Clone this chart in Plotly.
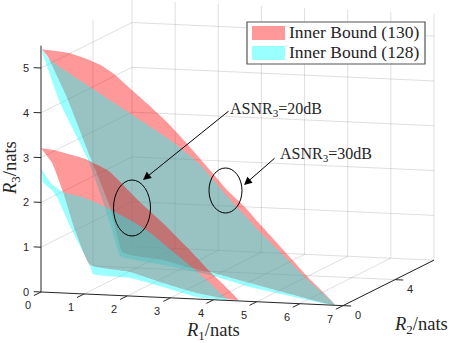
import numpy as np
import plotly.graph_objects as go

# outlines of the four regions, (R1, R2, R3) in nats
big_red_r1 = [0.02, 0.67, 1.02, 1.37, 1.72, 2.06, 2.48, 2.92, 3.41, 3.92, 4.33, 4.73, 5.10, 5.66, 6.19, 6.81, 5.38, 4.06, 3.34, 2.74, 2.15, 1.23, 0.32, 0, 0, 0, 0, 0]
big_red_r2 = [0, 0, 0, 0, 0, 0, 0, 0, 0, 0, 0, 0, 0, 0, 0, 0, 1.30, 2.60, 3.31, 3.90, 4.34, 5.29, 5.79, 6.23, 5.31, 3.77, 2.08, 0.54]
big_red_r3 = [5.42, 5.36, 5.26, 5.13, 4.92, 4.64, 4.30, 3.92, 3.43, 2.89, 2.45, 2.10, 1.71, 1.14, 0.60, 0.01, 0, 0, 0, 0, 0, 0, 0, 0, 1.13, 2.47, 3.98, 5.17]

big_cyan_r1 = [0.02, 0.21, 1.18, 2.06, 3.06, 3.69, 4.33, 5.10, 6.19, 6.81, 5.46, 4.23, 2.87, 1.45, 0.49, 0.15, 0, 0, 0, 0, 0]
big_cyan_r2 = [0, 0, 0, 0, 0, 0, 0, 0, 0, 0, 1.03, 2.04, 3.48, 4.59, 5.22, 5.58, 5.92, 4.92, 3.62, 1.46, 0.08]
big_cyan_r3 = [5.40, 5.19, 4.60, 4.08, 3.48, 3.00, 2.31, 1.54, 0.54, 0.01, 0, 0, 0, 0, 0, 0, 0.08, 1.18, 2.42, 4.01, 5.35]

small_red_r1 = [0.02, 0.32, 0.63, 0.86, 1.09, 1.32, 1.60, 1.95, 2.29, 2.83, 3.38, 3.92, 4.57, 4.25, 3.36, 2.21, 1.04, 0, 0, 0, 0, 0]
small_red_r2 = [0, 0, 0, 0, 0, 0, 0, 0, 0, 0, 0, 0, 0, 0.20, 0.85, 2.05, 3.39, 3.77, 2.62, 1.69, 0.85, 0]
small_red_r3 = [3.21, 3.18, 3.11, 3.06, 2.99, 2.89, 2.75, 2.43, 2.11, 1.66, 1.15, 0.62, 0.02, 0, 0, 0, 0, 0.06, 1.00, 1.99, 2.76, 3.21]

small_cyan_r1 = [0, 0.12, 0.25, 0.51, 0.95, 1.41, 2.06, 2.53, 3.06, 3.52, 3.92, 4.31, 4.52, 4.21, 3.53, 2.38, 1.30, 0.34, 0.04, 0, 0, 0, 0, 0, 0]
small_cyan_r2 = [0, 0, 0, 0, 0, 0, 0, 0, 0, 0, 0, 0, 0, 0.03, 0.28, 1.48, 2.54, 2.87, 3.71, 2.38, 1.62, 1.23, 0.85, 0.15, 0.08]
small_cyan_r3 = [2.77, 2.59, 2.42, 2.25, 2.16, 2.00, 1.70, 1.43, 1.03, 0.69, 0.37, 0.03, 0, 0, 0, 0, 0, 0, 0, 1.04, 1.64, 1.94, 2.15, 2.43, 2.65]

r1_ticks = [0, 1, 2, 3, 4, 5, 6, 7]
r2_ticks = [0, 4]
r3_ticks = [0, 1, 2, 3, 4, 5]
r1_max, r2_max, r3_max = 7, 7, 5.5

legend_labels = ["Inner Bound (130)", "Inner Bound (128)"]
red_fill = "rgba(255,0,0,0.4)"
cyan_fill = "rgba(0,255,255,0.4)"
axis_color = "#262626"
grid_color = "rgba(38,38,38,0.15)"
serif = "Liberation Serif"


def project(r1, r2, r3):
    # fixed view of the 3D box onto the page
    r1, r2, r3 = np.broadcast_arrays(np.asarray(r1, float), np.asarray(r2, float), np.asarray(r3, float))
    return 41 + 43.14 * r1 + 13 * r2, 292 + 1.95 * r1 - 6.5 * r2 - 44.8 * r3


def line3d(fig, a, b, color, width=1):
    x, y = project(*zip(a, b))
    fig.add_trace(go.Scatter(x=x, y=y, mode="lines", line=dict(color=color, width=width),
                             hoverinfo="skip", showlegend=False))


def region(fig, r1, r2, r3, color, name):
    x, y = project(r1, r2, r3)
    fig.add_trace(go.Scatter(x=x, y=y, mode="lines", fill="toself", fillcolor=color,
                             line=dict(width=0, shape="spline", smoothing=0.4),
                             name=name, hoverinfo="skip", showlegend=False))


fig = go.Figure()

# grid on floor and the two walls
for v in r1_ticks[1:]:
    line3d(fig, (v, 0, 0), (v, r2_max, 0), grid_color)
    line3d(fig, (v, r2_max, 0), (v, r2_max, r3_max), grid_color)
for v in r2_ticks[1:] + [r2_max]:
    line3d(fig, (0, v, 0), (r1_max, v, 0), grid_color)
    line3d(fig, (0, v, 0), (0, v, r3_max), grid_color)
for v in r3_ticks[1:]:
    line3d(fig, (0, 0, v), (0, r2_max, v), grid_color)
    line3d(fig, (0, r2_max, v), (r1_max, r2_max, v), grid_color)

region(fig, big_red_r1, big_red_r2, big_red_r3, red_fill, "Inner Bound (130)")
region(fig, big_cyan_r1, big_cyan_r2, big_cyan_r3, cyan_fill, "Inner Bound (128)")
region(fig, small_red_r1, small_red_r2, small_red_r3, red_fill, "Inner Bound (130)")
region(fig, small_cyan_r1, small_cyan_r2, small_cyan_r3, cyan_fill, "Inner Bound (128)")

# axes and ticks
line3d(fig, (0, 0, 0), (r1_max, 0, 0), axis_color)
line3d(fig, (r1_max, 0, 0), (r1_max, r2_max, 0), axis_color)
line3d(fig, (0, 0, 0), (0, 0, r3_max), axis_color)
for v in r1_ticks:
    line3d(fig, (v, 0, 0), (v, -0.55, 0), axis_color)
for v in r2_ticks:
    line3d(fig, (r1_max, v, 0), (r1_max + 0.19, v, 0), axis_color)
for v in r3_ticks:
    line3d(fig, (0, 0, v), (-0.17, 0, v), axis_color)

annotations = []


def label(x, y, text, size=11, family="Liberation Sans", angle=0, anchor="center"):
    annotations.append(dict(x=x, y=y, xref="x", yref="y", text=text, showarrow=False, textangle=angle,
                            xanchor=anchor, yanchor="middle", font=dict(family=family, size=size, color=axis_color)))


x, y = project(r1_ticks, 0, 0)
for v, px, py in zip(r1_ticks, x, y):
    label(px - 13, py + 13, str(v))
x, y = project(r1_max, r2_ticks, 0)
for v, px, py in zip(r2_ticks, x, y):
    label(px + 15, py + 9, str(v))
x, y = project(0, 0, r3_ticks)
for v, px, py in zip(r3_ticks, x, y):
    label(px - 15, py, str(v))

label(213, 331, "<i>R</i><sub>1</sub>/nats", size=18.5, family=serif)
label(421, 325, "<i>R</i><sub>2</sub>/nats", size=18.5, family=serif)
label(11, 168, "<i>R</i><sub>3</sub>/nats", size=18.5, family=serif, angle=-90)

# call-outs
label(228, 109, "ASNR<sub>3</sub>=20dB", size=16, family=serif, anchor="left")
label(278, 154, "ASNR<sub>3</sub>=30dB", size=16, family=serif, anchor="left")
for tip, tail in [((143, 180), (230, 110)), ((244, 185), (276, 157))]:
    annotations.append(dict(x=tip[0], y=tip[1], ax=tail[0], ay=tail[1], xref="x", yref="y", axref="x", ayref="y",
                            text="", showarrow=True, arrowhead=2, arrowsize=1.6, arrowwidth=1, arrowcolor="black"))

shapes = [
    dict(type="circle", xref="x", yref="y", x0=113.5, x1=150.5, y0=180, y1=236, line=dict(color="black", width=1)),
    dict(type="circle", xref="x", yref="y", x0=209, x1=242, y0=168, y1=213, line=dict(color="black", width=1)),
    # legend box
    dict(type="rect", xref="x", yref="y", x0=247, x1=425, y0=22, y1=64, fillcolor="white",
         line=dict(color="#555555", width=1.2)),
    dict(type="rect", xref="x", yref="y", x0=252, x1=285, y0=26, y1=40, fillcolor=red_fill, line=dict(width=0)),
    dict(type="rect", xref="x", yref="y", x0=252, x1=285, y0=46, y1=60, fillcolor=cyan_fill, line=dict(width=0)),
]
for text, py in zip(legend_labels, [32, 52]):
    label(287, py, text, size=17.5, family=serif, anchor="left")

fig.update_layout(width=457, height=343, margin=dict(l=0, r=0, t=0, b=0), paper_bgcolor="white",
                  plot_bgcolor="white", showlegend=False, shapes=shapes, annotations=annotations,
                  xaxis=dict(range=[0, 457], visible=False, fixedrange=True),
                  yaxis=dict(range=[343, 0], visible=False, fixedrange=True))

# drop the page's default body margin so the figure fills the window
fig.write_html("out.html", config=dict(displayModeBar=False),
               post_script="document.body.style.margin = '0';")
